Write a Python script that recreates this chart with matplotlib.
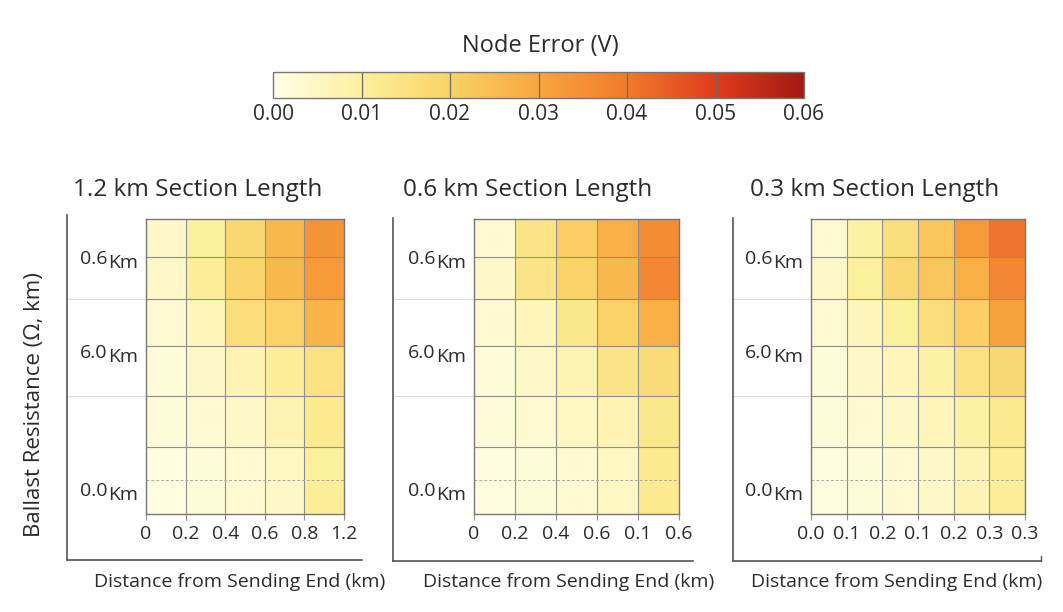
import numpy as np
import matplotlib
matplotlib.use('Agg')
import matplotlib.pyplot as plt
from matplotlib import transforms
from matplotlib.colors import LinearSegmentedColormap, Normalize
from matplotlib.cm import ScalarMappable

plt.rcParams['font.family'] = ['Open Sans', 'DejaVu Sans']

# ---- data -------------------------------------------------------------
cbar_ticks = [0.00, 0.01, 0.02, 0.03, 0.04, 0.05, 0.06]
cbar_colors = ['#fffde6', '#fcf09c', '#fad266', '#f7a63e', '#f17a2c', '#e03c1e', '#a31a12']

titles = ['1.2 km Section Length', '0.6 km Section Length', '0.3 km Section Length']

xtick_labels = [
    ['0', '0.2', '0.4', '0.6', '0.8', '1.2'],
    ['0', '0.2', '0.4', '0.6', '0.1', '0.6'],
    ['0.0', '0.1', '0.2', '0.1', '0.2', '0.3', '0.3'],
]
ytick_labels = ['0.6', '6.0', '0.0']

# node error (V), rows listed top -> bottom
err_12 = [
    [0.004, 0.010, 0.018, 0.026, 0.034],
    [0.004, 0.011, 0.019, 0.026, 0.033],
    [0.003, 0.006, 0.016, 0.020, 0.027],
    [0.002, 0.004, 0.007, 0.011, 0.015],
    [0.002, 0.003, 0.004, 0.007, 0.012],
    [0.001, 0.002, 0.003, 0.005, 0.010],
    [0.001, 0.002, 0.003, 0.004, 0.011],
]
err_06 = [
    [0.003, 0.014, 0.021, 0.028, 0.036],
    [0.004, 0.014, 0.020, 0.026, 0.037],
    [0.003, 0.006, 0.013, 0.020, 0.028],
    [0.002, 0.004, 0.007, 0.014, 0.017],
    [0.002, 0.003, 0.005, 0.007, 0.013],
    [0.001, 0.002, 0.003, 0.005, 0.012],
    [0.001, 0.002, 0.003, 0.005, 0.012],
]
err_03 = [
    [0.003, 0.009, 0.016, 0.023, 0.033, 0.041],
    [0.004, 0.010, 0.018, 0.023, 0.028, 0.037],
    [0.003, 0.006, 0.010, 0.016, 0.021, 0.031],
    [0.002, 0.004, 0.006, 0.009, 0.015, 0.018],
    [0.002, 0.003, 0.004, 0.006, 0.009, 0.012],
    [0.001, 0.002, 0.003, 0.004, 0.007, 0.011],
    [0.001, 0.002, 0.003, 0.004, 0.007, 0.011],
]
errors = [err_12, err_06, err_03]

# ---- layout (pixels of a 1063x612 canvas) ------------------------------
W, H = 1063, 612
row_heights = [34, 33, 51, 50, 47, 42, 38]        # bottom -> top
ylabel_rows = [255, 161, 23]
outer_boxes = [(67, 215, 362, 560), (393, 218, 693, 561), (733, 218, 1041, 561)]
heat_boxes = [(146, 219, 344, 514), (474, 219, 679, 514), (811, 219, 1025, 514)]
title_x = [73, 403, 750]
xlabel_x = [240, 569, 897]

grey = '#8e8e8e'
text_c = '#2b2b2b'


def fig_rect(box):
    l, t, r, b = box
    return [l / W, 1 - b / H, (r - l) / W, (b - t) / H]


cmap = LinearSegmentedColormap.from_list(
    'node_err', list(zip(np.array(cbar_ticks) / cbar_ticks[-1], cbar_colors)))
norm = Normalize(vmin=cbar_ticks[0], vmax=cbar_ticks[-1])

fig = plt.figure(figsize=(W / 100, H / 100), dpi=100)
fig.patch.set_facecolor('white')

row_edges = np.concatenate([[0], np.cumsum(row_heights)])

for k in range(3):
    vals = np.array(errors[k])[::-1]
    ncol = vals.shape[1]

    ax_out = fig.add_axes(fig_rect(outer_boxes[k]))
    ax_out.set_xticks([])
    ax_out.set_yticks([])
    ax_out.patch.set_alpha(0)
    for s in ['top', 'right']:
        ax_out.spines[s].set_visible(False)
    for s in ['left', 'bottom']:
        ax_out.spines[s].set_color('#555555')
        ax_out.spines[s].set_linewidth(1.2)
    if k == 2:
        ax_out.plot([1, 1], [0, 0.015], transform=ax_out.transAxes,
                    color='#555555', lw=1.0, clip_on=False)

    ax = fig.add_axes(fig_rect(heat_boxes[k]))
    col_edges = np.arange(ncol + 1)
    ax.pcolormesh(col_edges, row_edges, vals, cmap=cmap, norm=norm, shading='flat')
    ax.set_xlim(col_edges[0], col_edges[-1])
    ax.set_ylim(row_edges[0], row_edges[-1])

    for x in col_edges[1:-1]:
        ax.axvline(x, color=grey, lw=0.8)
    for i, y in enumerate(row_edges[1:-1]):
        if i == 0:
            ax.axhline(y, color='#a8a8a8', lw=0.7, ls=(0, (3, 2)))
        else:
            ax.axhline(y, color=grey, lw=0.8)
    for s in ax.spines.values():
        s.set_color('#777777')
        s.set_linewidth(1.0)

    ax.set_xticks(col_edges)
    ax.set_xticklabels(xtick_labels[k])
    ax.set_yticks([])
    ax.tick_params(axis='x', length=4, color=grey, pad=4, labelsize=14, labelcolor=text_c)

    # faint guide lines in the left margin
    tr = transforms.blended_transform_factory(ax_out.transAxes, ax.transData)
    frac = (heat_boxes[k][0] - outer_boxes[k][0]) / (outer_boxes[k][2] - outer_boxes[k][0])
    for y in [row_edges[3], row_edges[5]]:
        ax_out.plot([0, frac], [y, y], transform=tr, color='#dcdcdc', lw=0.8, clip_on=False)

    for lab, y in zip(ytick_labels, ylabel_rows):
        ax.annotate(lab, xy=(0, y), xycoords=('axes fraction', 'data'),
                    xytext=(-28, 0), textcoords='offset points',
                    ha='right', va='center', fontsize=14, color=text_c)
        ax.annotate('Km', xy=(0, y), xycoords=('axes fraction', 'data'),
                    xytext=(-6, -3), textcoords='offset points',
                    ha='right', va='center', fontsize=14, color=text_c)

    fig.text(title_x[k] / W, 1 - 190 / H, titles[k], ha='left', va='center',
             fontsize=17.5, color=text_c)
    fig.text(xlabel_x[k] / W, 1 - 582 / H, 'Distance from Sending End (km)',
             ha='center', va='center', fontsize=14, color=text_c)

fig.text(35 / W, 1 - 405 / H, 'Ballast Resistance (Ω, km)', rotation=90,
         ha='center', va='center', fontsize=16, color=text_c)

# colour bar
cax = fig.add_axes(fig_rect((273, 72, 804, 98)))
cb = fig.colorbar(ScalarMappable(norm=norm, cmap=cmap), cax=cax, orientation='horizontal')
cb.set_ticks(cbar_ticks)
cb.set_ticklabels([f'{t:.2f}' for t in cbar_ticks])
cb.outline.set_edgecolor('#777777')
cb.outline.set_linewidth(1.0)
cax.tick_params(length=0, pad=4, labelsize=15, labelcolor=text_c)
for t in cbar_ticks[1:-1]:
    cax.axvline(t, color='#6a6a6a', lw=0.9)
fig.text(540 / W, 1 - 46 / H, 'Node Error (V)', ha='center', va='center',
         fontsize=17, color=text_c)

fig.savefig('out.png', dpi=100)
